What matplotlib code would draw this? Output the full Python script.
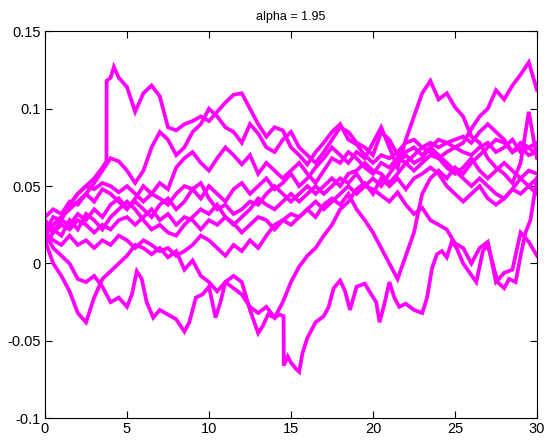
import numpy as np
import matplotlib
matplotlib.use("Agg")
import matplotlib.pyplot as plt

plt.rcParams['font.family'] = ['Liberation Sans', 'DejaVu Sans']

# common time grid (step 0.5) for the paths without jumps
t_grid = np.arange(0, 30.001, 0.5)

# path with the upward jump near t = 3.75
p1_t = [0, 0.5, 1, 1.5, 2, 2.5, 3, 3.5, 3.75, 3.76, 4, 4.2, 4.5, 5, 5.5, 6, 6.5, 7, 7.5,
        8, 8.5, 9, 9.5, 10, 10.5, 11, 11.5, 12, 12.5, 13, 13.5, 14, 14.5, 15, 15.5, 16,
        16.5, 17, 17.5, 18, 18.5, 19, 19.5, 20, 20.5, 21, 21.5, 22, 22.5, 23, 23.5, 24,
        24.5, 25, 25.5, 26, 26.5, 27, 27.5, 28, 28.5, 29, 29.5, 30]
p1_v = [0.02, 0.03, 0.028, 0.038, 0.045, 0.05, 0.055, 0.062, 0.066, 0.118, 0.12, 0.127,
        0.12, 0.114, 0.098, 0.11, 0.115, 0.108, 0.088, 0.086, 0.09, 0.092, 0.095, 0.092,
        0.098, 0.104, 0.109, 0.11, 0.1, 0.09, 0.082, 0.088, 0.086, 0.075, 0.07, 0.064,
        0.072, 0.078, 0.085, 0.09, 0.08, 0.077, 0.07, 0.065, 0.07, 0.068, 0.072, 0.078,
        0.08, 0.075, 0.078, 0.075, 0.078, 0.08, 0.082, 0.078, 0.085, 0.09, 0.085, 0.08,
        0.072, 0.075, 0.07, 0.072]

# lowest path, with the drop near t = 14.55
low_t = [0, 0.5, 1, 1.5, 2, 2.5, 3, 3.5, 4, 4.5, 5, 5.3, 5.6, 5.9, 6.2, 6.6, 7, 7.5, 8,
         8.5, 8.8, 9.2, 9.6, 10, 10.4, 10.7, 11, 11.5, 12, 12.5, 13, 13.3, 13.6, 14, 14.3,
         14.55, 14.56, 14.8, 15, 15.3, 15.5, 15.7, 16, 16.5, 17, 17.3, 17.6, 18, 18.3,
         18.6, 19, 19.5, 19.9, 20.2, 20.4, 20.7, 21, 21.3, 21.6, 22, 22.5, 23, 23.3, 23.6,
         23.9, 24.2, 24.5, 24.8, 25.1, 25.5, 25.9, 26.3, 26.7, 27, 27.3, 27.6, 28, 28.3,
         28.7, 29, 29.3, 29.6, 30]
low_v = [0.02, 0.01, 0.005, 0.0, -0.01, -0.012, -0.008, -0.015, -0.025, -0.022, -0.028,
         -0.02, -0.005, -0.01, -0.025, -0.035, -0.03, -0.033, -0.036, -0.044, -0.038,
         -0.022, -0.02, -0.015, -0.035, -0.025, -0.012, -0.008, -0.012, -0.03, -0.045,
         -0.04, -0.033, -0.035, -0.033, -0.034, -0.066, -0.06, -0.064, -0.068, -0.07,
         -0.058, -0.048, -0.038, -0.034, -0.028, -0.016, -0.011, -0.018, -0.03, -0.015,
         -0.013, -0.02, -0.025, -0.038, -0.026, -0.012, -0.022, -0.028, -0.026, -0.03,
         -0.032, -0.022, -0.003, 0.006, 0.008, 0.004, 0.014, 0.01, 0.0, -0.006, -0.012,
         0.008, 0.012, 0.0, -0.012, -0.016, -0.01, -0.012, 0.005, 0.02, 0.028, 0.055]

p2_v = [0.03, 0.035, 0.032, 0.04, 0.038, 0.045, 0.04, 0.048, 0.045, 0.04, 0.035, 0.042,
        0.05, 0.045, 0.052, 0.048, 0.062, 0.068, 0.072, 0.065, 0.06, 0.068, 0.075, 0.07,
        0.064, 0.07, 0.058, 0.065, 0.06, 0.055, 0.06, 0.065, 0.058, 0.052, 0.06, 0.068,
        0.065, 0.072, 0.068, 0.062, 0.058, 0.065, 0.062, 0.068, 0.065, 0.06, 0.065, 0.07,
        0.068, 0.072, 0.075, 0.078, 0.087, 0.095, 0.1, 0.112, 0.106, 0.115, 0.122, 0.13,
        0.112]
p3_v = [0.025, 0.02, 0.028, 0.025, 0.032, 0.028, 0.035, 0.03, 0.038, 0.042, 0.036, 0.04,
        0.035, 0.03, 0.038, 0.042, 0.035, 0.04, 0.048, 0.042, 0.05, 0.045, 0.04, 0.048,
        0.052, 0.045, 0.05, 0.055, 0.048, 0.052, 0.058, 0.05, 0.055, 0.062, 0.068, 0.075,
        0.07, 0.065, 0.072, 0.068, 0.078, 0.088, 0.075, 0.062, 0.08, 0.095, 0.11, 0.118,
        0.106, 0.11, 0.101, 0.095, 0.082, 0.078, 0.068, 0.062, 0.058, 0.052, 0.065, 0.098,
        0.068]
p4_v = [0.022, 0.025, 0.03, 0.035, 0.04, 0.045, 0.052, 0.06, 0.068, 0.066, 0.06, 0.052,
        0.06, 0.075, 0.085, 0.08, 0.07, 0.075, 0.085, 0.09, 0.1, 0.095, 0.088, 0.085,
        0.078, 0.09, 0.084, 0.075, 0.072, 0.08, 0.085, 0.075, 0.07, 0.065, 0.072, 0.08,
        0.088, 0.085, 0.078, 0.075, 0.07, 0.085, 0.08, 0.07, 0.072, 0.075, 0.07, 0.075,
        0.08, 0.078, 0.075, 0.072, 0.07, 0.075, 0.078, 0.072, 0.075, 0.08, 0.072, 0.075,
        0.07]
p5_v = [0.018, 0.025, 0.03, 0.038, 0.045, 0.05, 0.048, 0.052, 0.05, 0.046, 0.05, 0.045,
        0.04, 0.045, 0.042, 0.038, 0.045, 0.05, 0.048, 0.052, 0.042, 0.035, 0.038, 0.032,
        0.035, 0.04, 0.038, 0.045, 0.05, 0.045, 0.04, 0.045, 0.05, 0.045, 0.05, 0.055,
        0.05, 0.058, 0.06, 0.065, 0.06, 0.058, 0.052, 0.058, 0.065, 0.07, 0.075, 0.072,
        0.068, 0.062, 0.058, 0.062, 0.068, 0.06, 0.055, 0.06, 0.065, 0.06, 0.055, 0.06,
        0.058]
p6_v = [0.012, 0.02, 0.025, 0.022, 0.028, 0.025, 0.02, 0.025, 0.022, 0.028, 0.03, 0.025,
        0.03, 0.035, 0.028, 0.032, 0.025, 0.03, 0.028, 0.022, 0.028, 0.025, 0.03, 0.026,
        0.02, 0.025, 0.03, 0.028, 0.022, 0.028, 0.025, 0.03, 0.035, 0.04, 0.035, 0.04,
        0.045, 0.05, 0.045, 0.05, 0.055, 0.05, 0.058, 0.065, 0.07, 0.065, 0.068, 0.075,
        0.07, 0.065, 0.06, 0.055, 0.05, 0.055, 0.05, 0.045, 0.042, 0.048, 0.045, 0.05,
        0.045]
p7_v = [0.015, 0.0, -0.008, -0.018, -0.032, -0.038, -0.022, -0.01, -0.005, 0.0, 0.005,
        0.012, 0.01, 0.006, 0.01, 0.004, 0.008, -0.004, 0.002, -0.008, -0.012, -0.018,
        -0.012, -0.016, -0.02, -0.028, -0.032, -0.028, -0.035, -0.025, -0.012, -0.002,
        0.005, 0.01, 0.018, 0.025, 0.035, 0.04, 0.048, 0.052, 0.045, 0.055, 0.05, 0.055,
        0.048, 0.055, 0.058, 0.062, 0.058, 0.05, 0.045, 0.04, 0.045, 0.05, 0.042, 0.038,
        0.042, 0.048, 0.055, 0.05, 0.055]
p8_v = [0.02, 0.015, 0.012, 0.018, 0.012, 0.015, 0.01, 0.015, 0.012, 0.018, 0.015, 0.01,
        0.015, 0.012, 0.008, 0.01, 0.005, 0.008, 0.012, 0.018, 0.015, 0.01, 0.005, 0.012,
        0.008, 0.015, 0.01, 0.018, 0.025, 0.028, 0.032, 0.03, 0.035, 0.03, 0.038, 0.042,
        0.038, 0.045, 0.035, 0.028, 0.02, 0.01, 0.0, -0.01, 0.005, 0.02, 0.045, 0.055,
        0.06, 0.055, 0.062, 0.058, 0.065, 0.07, 0.075, 0.08, 0.078, 0.072, 0.078, 0.075,
        0.078]
br_v = [0.028, 0.022, 0.018, 0.028, 0.022, 0.032, 0.028, 0.022, 0.03, 0.035, 0.04, 0.035,
        0.028, 0.022, 0.025, 0.02, 0.018, 0.025, 0.03, 0.035, 0.032, 0.038, 0.03, 0.025,
        0.03, 0.035, 0.042, 0.038, 0.035, 0.04, 0.045, 0.04, 0.045, 0.05, 0.045, 0.05,
        0.055, 0.052, 0.058, 0.05, 0.048, 0.044, 0.04, 0.046, 0.038, 0.032, 0.036, 0.028,
        0.025, 0.022, 0.013, 0.01, 0.0, 0.01, 0.014, -0.012, -0.006, -0.004, 0.02, 0.014,
        0.005]

grid_paths = [p2_v, p3_v, p4_v, p5_v, p6_v, p7_v, p8_v, br_v]

fig = plt.figure(figsize=(5.44, 4.43), dpi=100)
ax = fig.add_axes([0.0827, 0.0558, 0.9044, 0.8735])

# thick strokes stand in for the dense small-scale fluctuation of each path
line_kw = dict(color=(1, 0, 1), lw=2.7, solid_joinstyle='miter')
ax.plot(p1_t, p1_v, **line_kw)
ax.plot(low_t, low_v, **line_kw)
for v in grid_paths:
    ax.plot(t_grid, v, **line_kw)

ax.set_xlim(0, 30)
ax.set_ylim(-0.1, 0.15)
ax.set_xticks([0, 5, 10, 15, 20, 25, 30])
ax.set_xticklabels(['0', '5', '10', '15', '20', '25', '30'])
ax.set_yticks([-0.1, -0.05, 0, 0.05, 0.1, 0.15])
ax.set_yticklabels(['-0.1', '-0.05', '0', '0.05', '0.1', '0.15'])
ax.tick_params(direction='in', length=5, width=0.8, top=True, right=True,
               labelsize=10.5, pad=3, colors='black')
for s in ax.spines.values():
    s.set_linewidth(0.8)
ax.set_title('alpha = 1.95', fontsize=9, pad=8)

fig.savefig('out.png', dpi=100)
